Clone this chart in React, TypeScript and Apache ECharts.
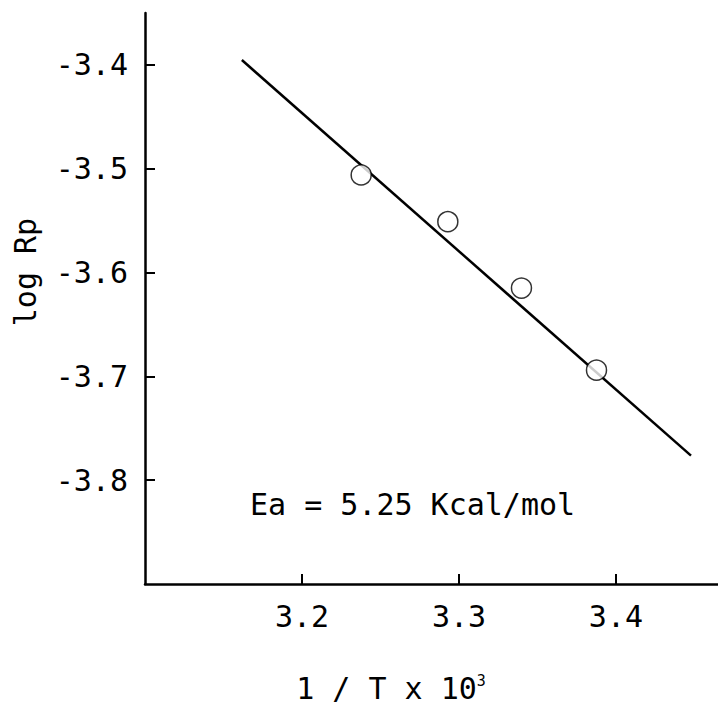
import React, { useEffect, useRef } from "react";
import * as echarts from "echarts";

// Data
const invT: number[] = [3.2377, 3.2929, 3.3398, 3.3876];
const logRp: number[] = [-3.506, -3.551, -3.615, -3.694];
const fitX: number[] = [3.1617, 3.4478];
const fitY: number[] = [-3.3953, -3.7764];
const yTicks = { min: -3.9, max: -3.35, interval: 0.1 };
const xTicks = { min: 3.1, max: 3.465, interval: 0.1 };
const yName = "log Rp";
const xNameMain = "1 / T x 10";
const xNameSup = "3";
const annotation = "Ea = 5.25 Kcal/mol";

const FONT = "DejaVu Sans Mono";
const FS = 30;

export default function App() {
  const ref = useRef<HTMLDivElement>(null);
  useEffect(() => {
    document.body.style.margin = "0";
    if (!ref.current) return;
    const chart = echarts.init(ref.current, null, { renderer: "svg" });
    const axisLine = { show: true, lineStyle: { color: "#000", width: 2.5 } };
    chart.setOption({
      animation: false,
      backgroundColor: "#fff",
      grid: { left: 145, top: 13, right: 0, bottom: 123, containLabel: false },
      xAxis: {
        type: "value",
        min: xTicks.min,
        max: xTicks.max,
        interval: xTicks.interval,
        axisLine,
        axisTick: { show: true, inside: true, length: 10, lineStyle: { color: "#000", width: 2 } },
        splitLine: { show: false },
        axisLabel: {
          showMinLabel: false,
          showMaxLabel: false,
          margin: 17,
          color: "#000",
          fontFamily: FONT,
          fontSize: FS,
          formatter: (v: number) => v.toFixed(1),
        },
      },
      yAxis: {
        type: "value",
        min: yTicks.min,
        max: yTicks.max,
        interval: yTicks.interval,
        axisLine,
        axisTick: { show: true, inside: true, length: 10, lineStyle: { color: "#000", width: 2 } },
        splitLine: { show: false },
        axisLabel: {
          showMinLabel: false,
          showMaxLabel: false,
          margin: 17,
          color: "#000",
          fontFamily: FONT,
          fontSize: FS,
          formatter: (v: number) => v.toFixed(1),
        },
      },
      series: [
        {
          type: "line",
          data: fitX.map((x, i) => [x, fitY[i]]),
          symbol: "none",
          lineStyle: { color: "#000", width: 2.5 },
          z: 2,
        },
        {
          type: "scatter",
          data: invT.map((x, i) => [x, logRp[i]]),
          symbol: "circle",
          symbolSize: 20,
          itemStyle: { color: "#fff", borderColor: "#000", borderWidth: 1.5 },
          z: 3,
        },
      ],
      graphic: [
        {
          type: "text",
          x: 25,
          y: 272,
          rotation: Math.PI / 2,
          style: {
            text: yName,
            fontFamily: FONT,
            fontSize: FS,
            fill: "#000",
            align: "center",
            verticalAlign: "middle",
          },
        },
        {
          type: "text",
          x: 391,
          y: 688,
          style: {
            text: xNameMain + "{sup|" + xNameSup + "}",
            fontFamily: FONT,
            fontSize: FS,
            fill: "#000",
            align: "center",
            verticalAlign: "middle",
            rich: {
              sup: { fontFamily: FONT, fontSize: 15, fill: "#000", padding: [0, 0, 14, 0] },
            },
          },
        },
        {
          type: "text",
          x: 250,
          y: 504,
          style: {
            text: annotation,
            fontFamily: FONT,
            fontSize: FS,
            fill: "#000",
            align: "left",
            verticalAlign: "middle",
          },
        },
      ],
    });
    return () => chart.dispose();
  }, []);
  return <div ref={ref} style={{ width: 718, height: 707 }} />;
}
